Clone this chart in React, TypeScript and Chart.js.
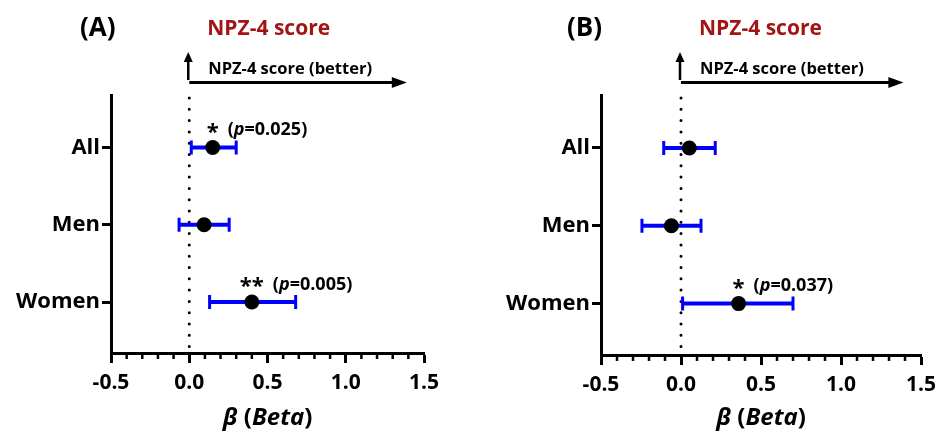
import React, { useEffect, useRef } from "react";
import { Chart, registerables } from "chart.js";

Chart.register(...registerables);

const FONT = "'Open Sans', 'DejaVu Sans', sans-serif";

const categories = ["All", "Men", "Women"];
const xTickValues = [-0.5, 0, 0.5, 1.0, 1.5];

const betaA = [0.15, 0.095, 0.4];
const lowerA = [0.013, -0.065, 0.13];
const upperA = [0.3, 0.255, 0.68];
const starsA = ["*", "", "**"];
const pValuesA = ["0.025", "", "0.005"];

const betaB = [0.052, -0.06, 0.36];
const lowerB = [-0.108, -0.244, 0.01];
const upperB = [0.214, 0.125, 0.7];
const starsB = ["", "", "*"];
const pValuesB = ["", "", "0.037"];

const panelLabels = ["(A)", "(B)"];
const panelTitle = "NPZ-4 score";
const arrowLabel = "NPZ-4 score (better)";
const arrowEnd = 1.39;
const axisTitleParts = ["β", " (", "Beta", ")"];

type PanelProps = {
  label: string;
  beta: number[];
  lower: number[];
  upper: number[];
  stars: string[];
  pvals: string[];
  left: number;
  width: number;
  area: { left: number; right: number; top: number; bottom: number };
  labelOffset: number;
};

function drawSegments(ctx: CanvasRenderingContext2D, parts: { t: string; font: string }[], x: number, y: number) {
  let cx = x;
  for (const p of parts) {
    ctx.font = p.font;
    ctx.fillText(p.t, cx, y);
    cx += ctx.measureText(p.t).width;
  }
  return cx;
}

function segWidth(ctx: CanvasRenderingContext2D, parts: { t: string; font: string }[]) {
  let w = 0;
  for (const p of parts) {
    ctx.font = p.font;
    w += ctx.measureText(p.t).width;
  }
  return w;
}

const forestPlugin = {
  id: "forest",
  beforeDatasetsDraw(chart: any, _args: any, opts: any) {
    const { ctx, chartArea } = chart;
    const x = chart.scales.x;
    const y = chart.scales.y;
    const x0 = x.getPixelForValue(0);
    ctx.save();
    // dotted reference line at zero
    ctx.strokeStyle = "#000";
    ctx.lineWidth = 3;
    ctx.lineCap = "round";
    ctx.setLineDash([0, 11.3]);
    ctx.beginPath();
    ctx.moveTo(x0, chartArea.top + 3);
    ctx.lineTo(x0, chartArea.bottom - 2);
    ctx.stroke();
    ctx.setLineDash([]);
    // error bars
    ctx.strokeStyle = "#0000ff";
    ctx.lineCap = "butt";
    opts.lower.forEach((lo: number, i: number) => {
      const yy = y.getPixelForValue(i);
      const xl = x.getPixelForValue(lo);
      const xr = x.getPixelForValue(opts.upper[i]);
      ctx.lineWidth = 4;
      ctx.beginPath();
      ctx.moveTo(xl, yy);
      ctx.lineTo(xr, yy);
      ctx.stroke();
      ctx.lineWidth = 3;
      ctx.beginPath();
      ctx.moveTo(xl, yy - 7);
      ctx.lineTo(xl, yy + 7);
      ctx.moveTo(xr, yy - 7);
      ctx.lineTo(xr, yy + 7);
      ctx.stroke();
    });
    ctx.restore();
  },
  afterDraw(chart: any, _args: any, opts: any) {
    const { ctx, chartArea } = chart;
    const x = chart.scales.x;
    const y = chart.scales.y;
    const x0 = x.getPixelForValue(0);
    ctx.save();
    ctx.fillStyle = "#000";
    ctx.strokeStyle = "#000";

    // minor ticks
    ctx.lineWidth = 2.5;
    ctx.beginPath();
    for (let k = 0; k < xTickValues.length - 1; k++) {
      const a = xTickValues[k];
      const b = xTickValues[k + 1];
      for (let m = 1; m < 5; m++) {
        const v = a + ((b - a) * m) / 5;
        const px = x.getPixelForValue(v);
        ctx.moveTo(px, chartArea.bottom);
        ctx.lineTo(px, chartArea.bottom + 6);
      }
    }
    ctx.stroke();

    // panel label
    ctx.textBaseline = "middle";
    ctx.textAlign = "left";
    ctx.font = `bold 26px ${FONT}`;
    ctx.fillText(opts.label, chartArea.left + opts.labelOffset, 29);

    // panel title
    ctx.fillStyle = "#a31515";
    ctx.font = `bold 21px ${FONT}`;
    ctx.fillText(panelTitle, x0 + 18, 29);

    // arrow label
    ctx.fillStyle = "#000";
    ctx.font = `bold 16.5px ${FONT}`;
    ctx.fillText(arrowLabel, x0 + 19, 69);

    // vertical arrow
    ctx.lineWidth = 2.5;
    ctx.beginPath();
    ctx.moveTo(x0 - 1, 80);
    ctx.lineTo(x0 - 1, 58);
    ctx.stroke();
    ctx.beginPath();
    ctx.moveTo(x0 - 1, 52);
    ctx.lineTo(x0 - 5.5, 62);
    ctx.lineTo(x0 + 3.5, 62);
    ctx.closePath();
    ctx.fill();

    // horizontal arrow
    const xe = x.getPixelForValue(arrowEnd);
    ctx.lineWidth = 3;
    ctx.beginPath();
    ctx.moveTo(x0, 82.5);
    ctx.lineTo(xe - 10, 82.5);
    ctx.stroke();
    ctx.beginPath();
    ctx.moveTo(xe, 82.5);
    ctx.lineTo(xe - 15, 77);
    ctx.lineTo(xe - 15, 88);
    ctx.closePath();
    ctx.fill();

    // significance annotations
    opts.stars.forEach((s: string, i: number) => {
      if (!s) return;
      const px = x.getPixelForValue(opts.beta[i]);
      const py = y.getPixelForValue(i) - 19;
      ctx.font = `bold 22px ${FONT}`;
      ctx.textAlign = "center";
      ctx.textBaseline = "alphabetic";
      const sw = ctx.measureText(s).width;
      ctx.fillText(s, px, py + 10);
      ctx.textAlign = "left";
      drawSegments(
        ctx,
        [
          { t: "(", font: `bold 18px ${FONT}` },
          { t: "p", font: `italic bold 18px ${FONT}` },
          { t: "=" + opts.pvals[i] + ")", font: `bold 18px ${FONT}` },
        ],
        px + sw / 2 + 9,
        py + 6.5
      );
    });

    // x axis title
    const parts = [
      { t: axisTitleParts[0], font: `italic bold 24px ${FONT}` },
      { t: axisTitleParts[1], font: `bold 24px ${FONT}` },
      { t: axisTitleParts[2], font: `italic bold 24px ${FONT}` },
      { t: axisTitleParts[3], font: `bold 24px ${FONT}` },
    ];
    const w = segWidth(ctx, parts);
    ctx.textAlign = "left";
    ctx.textBaseline = "middle";
    drawSegments(ctx, parts, (chartArea.left + chartArea.right) / 2 - w / 2, 418);
    ctx.restore();
  },
};

function Panel(props: PanelProps) {
  const ref = useRef<HTMLCanvasElement | null>(null);
  useEffect(() => {
    const canvas = ref.current;
    if (!canvas) return;
    const H = 436;
    const { area, width } = props;
    const chart = new Chart(canvas, {
      type: "scatter",
      data: {
        datasets: [
          {
            data: props.beta.map((b, i) => ({ x: b, y: i })),
            backgroundColor: "#000",
            borderColor: "#000",
            pointRadius: 7.5,
            pointHoverRadius: 7.5,
            borderWidth: 0,
            showLine: false,
          },
        ],
      },
      options: {
        animation: false,
        responsive: false,
        maintainAspectRatio: false,
        events: [],
        layout: { padding: { left: 0, top: area.top, right: width - area.right, bottom: 0 } },
        plugins: {
          legend: { display: false },
          tooltip: { enabled: false },
          forest: {
            label: props.label,
            beta: props.beta,
            lower: props.lower,
            upper: props.upper,
            stars: props.stars,
            pvals: props.pvals,
            labelOffset: props.labelOffset,
          },
        } as any,
        scales: {
          x: {
            type: "linear",
            min: xTickValues[0],
            max: xTickValues[xTickValues.length - 1],
            afterBuildTicks: (scale: any) => {
              scale.ticks = xTickValues.map((v) => ({ value: v }));
            },
            ticks: {
              color: "#000",
              font: { family: FONT, weight: "bold", size: 21 },
              padding: 7,
              maxRotation: 0,
              autoSkip: false,
              callback: (v: any) => Number(v).toFixed(1),
            },
            grid: {
              display: true,
              drawOnChartArea: false,
              drawTicks: true,
              tickLength: 10,
              tickWidth: 3,
              tickColor: "#000",
            },
            border: { display: true, color: "#000", width: 3 },
            afterFit: (scale: any) => {
              scale.height = H - area.bottom;
              scale.paddingLeft = 0;
              scale.paddingRight = 0;
            },
          },
          y: {
            type: "linear",
            reverse: true,
            min: -0.68,
            max: 2.66,
            afterBuildTicks: (scale: any) => {
              scale.ticks = categories.map((_c, i) => ({ value: i }));
            },
            ticks: {
              color: "#000",
              font: { family: FONT, weight: "bold", size: 22 },
              padding: 2,
              autoSkip: false,
              callback: (v: any) => categories[Math.round(Number(v))] ?? "",
            },
            grid: {
              display: true,
              drawOnChartArea: false,
              drawTicks: true,
              tickLength: 9,
              tickWidth: 3,
              tickColor: "#000",
            },
            border: { display: true, color: "#000", width: 3 },
            afterFit: (scale: any) => {
              scale.width = area.left;
              scale.paddingTop = 0;
              scale.paddingBottom = 0;
            },
          },
        },
      },
      plugins: [forestPlugin as any],
    });
    return () => chart.destroy();
  }, []);
  return (
    <canvas
      ref={ref}
      width={props.width}
      height={436}
      style={{ position: "absolute", left: props.left, top: 0, width: props.width, height: 436 }}
    />
  );
}

export default function App() {
  return (
    <div
      style={{
        position: "fixed",
        left: 0,
        top: 0,
        width: 937,
        height: 436,
        background: "#fff",
        overflow: "hidden",
      }}
    >
      <Panel
        label={panelLabels[0]}
        beta={betaA}
        lower={lowerA}
        upper={upperA}
        stars={starsA}
        pvals={pValuesA}
        left={0}
        width={468}
        area={{ left: 111, right: 424, top: 95, bottom: 353 }}
        labelOffset={-31}
      />
      <Panel
        label={panelLabels[1]}
        beta={betaB}
        lower={lowerB}
        upper={upperB}
        stars={starsB}
        pvals={pValuesB}
        left={468}
        width={469}
        area={{ left: 133, right: 453, top: 95, bottom: 355 }}
        labelOffset={-34}
      />
    </div>
  );
}
